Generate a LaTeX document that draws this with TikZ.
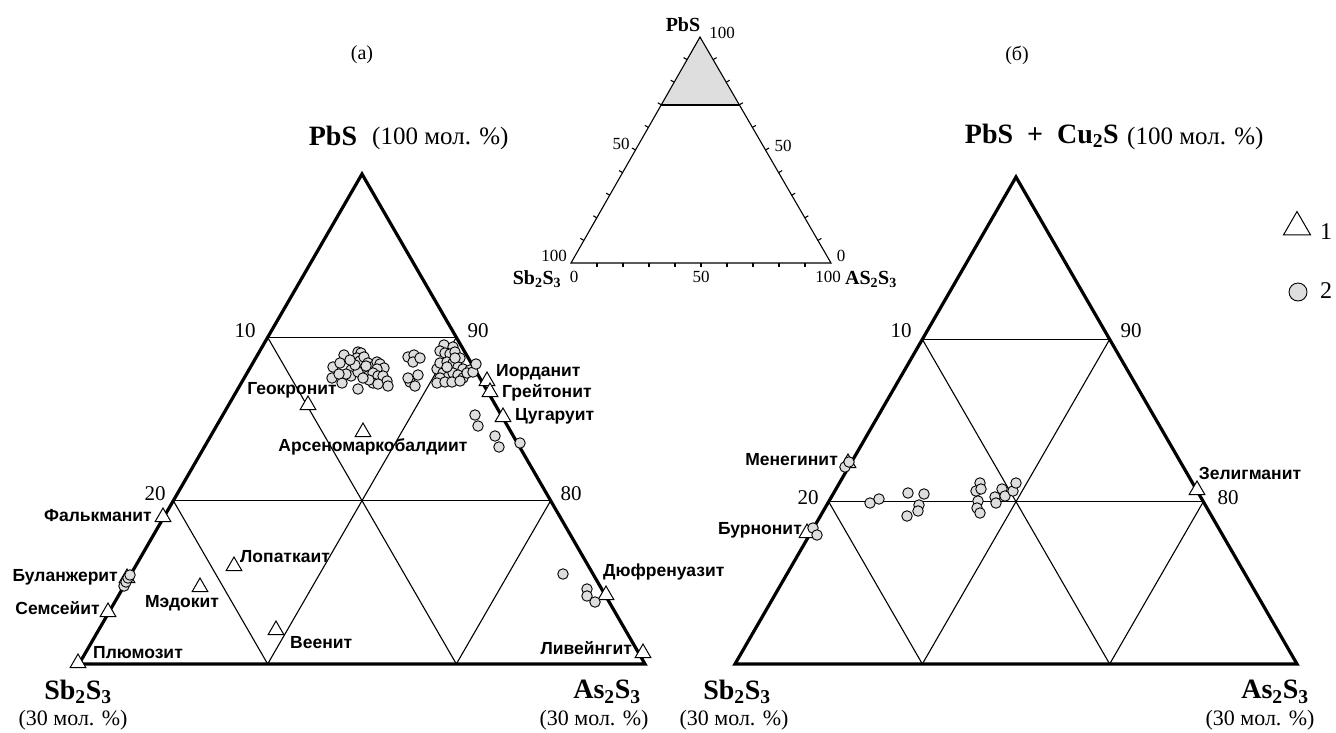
\documentclass[tikz,border=0pt]{standalone}
\usepackage{fontspec}
\setmainfont{Liberation Serif}
\setsansfont{Liberation Sans}
\usetikzlibrary{calc, shapes.geometric}

\definecolor{dotgray}{HTML}{DEDEDE}

% Ternary frame with a 1/3 grid: apex, left corner, right corner

\newcommand{\ternarygrid}[3]{%
	\draw [grid line] ($(#1)!1/3!(#2)$) -- ($(#1)!1/3!(#3)$);
	\draw [grid line] ($(#1)!2/3!(#2)$) -- ($(#1)!2/3!(#3)$);
	\draw [grid line] ($(#2)!1/3!(#3)$) -- ($(#3)!2/3!(#1)$);
	\draw [grid line] ($(#2)!2/3!(#3)$) -- ($(#3)!1/3!(#1)$);
	\draw [grid line] ($(#3)!1/3!(#2)$) -- ($(#2)!2/3!(#1)$);
	\draw [grid line] ($(#3)!2/3!(#2)$) -- ($(#2)!1/3!(#1)$);
	\draw [outer side] (#1) -- (#2) -- (#3) -- cycle;
}

\tikzset{
	outer side/.style = {line width = 3.2pt},
	grid line/.style = {line width = 1.1pt},
	inset line/.style = {line width = 1.1pt},
	trimark/.style = {draw, fill = white, line width = 1pt, regular polygon, regular polygon sides = 3, minimum size = 18pt, inner sep = 0pt},
	dotmark/.style = {draw, fill = dotgray, line width = 0.9pt, circle, minimum size = 10.5pt, inner sep = 0pt},
	mineral/.style = {font = \sffamily\bfseries\fontsize{17.5}{17.5}\selectfont, inner sep = 0pt},
	axisnum/.style = {font = \fontsize{21}{21}\selectfont, inner sep = 0pt},
	corner/.style = {font = \bfseries\fontsize{28}{28}\selectfont, inner sep = 0pt},
	amount/.style = {font = \fontsize{22}{22}\selectfont, inner sep = 0pt},
	insetnum/.style = {font = \fontsize{17}{17}\selectfont, inner sep = 0pt},
	insetcorner/.style = {font = \bfseries\fontsize{20}{20}\selectfont, inner sep = 0pt}
}

\begin{document}
\begin{tikzpicture}[x = 1pt, y = -1pt]

\useasboundingbox (0, 0) rectangle (1336, 732);

% Corners

\coordinate (A1) at (362, 174);
\coordinate (B1) at (79, 664);
\coordinate (C1) at (645, 664);

\coordinate (A2) at (1016, 177);
\coordinate (B2) at (735, 664);
\coordinate (C2) at (1297, 664);

\coordinate (P) at (700, 37);
\coordinate (L) at (571, 263);
\coordinate (R) at (831, 263);

% Inset: whole system with the studied field

\fill [dotgray] (P) -- ($(P)!0.3!(L)$) -- ($(P)!0.3!(R)$) -- cycle;
\draw [line width = 1.6pt] ($(P)!0.3!(L)$) -- ($(P)!0.3!(R)$);
\draw [inset line] (P) -- (L) -- (R) -- cycle;
\foreach \t in {1, ..., 9} {
	\draw [inset line] ($(L)!\t/10!(R)$) -- ++(0, 4);
	\draw [inset line] ($(L)!\t/10!(P)$) -- ++(-3.5, -2);
	\draw [inset line] ($(R)!\t/10!(P)$) -- ++(3.5, -2);
}

\node [insetcorner] (iPbS) at (683, 25) {PbS};
\node [insetnum] (iTop) at (722, 33) {100};
\node [insetnum] (iLeft) at (621, 144) {50};
\node [insetnum] (iRight) at (783, 146) {50};
\node [insetnum] (iLtop) at (554, 256) {100};
\node [insetnum] (iRtop) at (841, 256) {0};
\node [insetnum] (iL0) at (574, 277) {0};
\node [insetnum] (iMid) at (701, 277) {50};
\node [insetnum] (iR100) at (828, 277) {100};
\node [insetcorner] (iSb) at (537, 279) {Sb\textsubscript{2}S\textsubscript{3}};
\node [insetcorner] (iAs) at (871, 279) {AS\textsubscript{2}S\textsubscript{3}};

% Headings

\node [font = \fontsize{20}{20}\selectfont] (capA) at (362, 55) {(а)};
\node [font = \fontsize{20}{20}\selectfont] (capB) at (1017, 55) {(б)};

% Left diagram

\ternarygrid{A1}{B1}{C1}

\node [corner] (topA) at (333, 136) {PbS};
\node [amount, font = \fontsize{25}{25}\selectfont, anchor = west] (topAm) at (372, 138) {(100 мол. \%)};
\node [corner] (sbA) at (78, 692) {Sb\textsubscript{2}S\textsubscript{3}};
\node [amount] (sbAm) at (73, 720) {(30 мол. \%)};
\node [corner] (asA) at (607, 692) {As\textsubscript{2}S\textsubscript{3}};
\node [amount] (asAm) at (594, 720) {(30 мол. \%)};

\node [axisnum] (n10a) at (245, 331) {10};
\node [axisnum] (n90a) at (478, 331) {90};
\node [axisnum] (n20a) at (155, 494) {20};
\node [axisnum] (n80a) at (571, 494) {80};

\foreach \x/\y [count = \i] in {487/381, 490/392, 503/417, 308/405, 363/432, 163/517, 127/578,
	108/612, 78/663, 200/587, 234/566, 276/630, 606/595, 643/653}
	\node [trimark] (ta\i) at (\x, \y) {};

\foreach \x/\y [count = \i] in {344/355, 358/352, 361/353, 333/367, 340/363, 332/378, 342/383,
	351/370, 351/376, 357/358, 360/361, 364/357, 368/363, 372/367, 377/362, 380/364, 384/368,
	377/369, 367/371, 368/376, 373/373, 378/376, 383/376, 387/381, 388/386, 373/383, 369/380,
	378/384, 358/372, 355/365, 358/389, 363/378, 350/360, 366/366, 346/374, 339/374,
	408/357, 414/355, 413/362, 420/358, 418/375, 410/382, 415/386, 408/378,
	444/345, 453/347, 440/351, 445/353, 450/354, 455/352, 460/358, 437/369, 440/363, 447/362,
	453/363, 458/367, 463/369, 470/370, 443/373, 448/377, 453/373, 458/375, 463/378, 440/378,
	437/383, 445/382, 452/382, 460/381, 467/373, 447/367, 455/358, 473/372,
	476/364, 475/415, 478/426, 495/436, 499/447, 520/443,
	124/586, 126/582, 128/578, 130/575,
	563/574, 587/589, 587/596, 595/602}
	\node [dotmark] (da\i) at (\x, \y) {};

\node [mineral, anchor = west] (iord) at (496, 372) {Иорданит};
\node [mineral, anchor = west] (grei) at (502, 393) {Грейтонит};
\node [mineral, anchor = west] (tsug) at (515, 416) {Цугаруит};
\node [mineral] (geok) at (292, 390) {Геокронит};
\node [mineral] (arsen) at (373, 447) {Арсеномаркобалдиит};
\node [mineral, anchor = east] (falk) at (152, 516) {Фалькманит};
\node [mineral, anchor = east] (bulan) at (118, 577) {Буланжерит};
\node [mineral, anchor = east] (sems) at (100, 608) {Семсейит};
\node [mineral, anchor = west] (plum) at (93, 653) {Плюмозит};
\node [mineral] (medok) at (182, 603) {Мэдокит};
\node [mineral, anchor = west] (lopat) at (240, 557) {Лопаткаит};
\node [mineral, anchor = west] (veen) at (290, 643) {Веенит};
\node [mineral, anchor = west] (dufr) at (603, 572) {Дюфренуазит};
\node [mineral, anchor = east] (livein) at (632, 648) {Ливейнгит};

% Right diagram

\ternarygrid{A2}{B2}{C2}

\node [corner, anchor = east] (topB) at (1119, 136) {PbS\hspace{14pt}+\hspace{14pt}Cu\textsubscript{2}S};
\node [amount, font = \fontsize{25}{25}\selectfont, anchor = west] (topBm) at (1127, 138) {(100 мол. \%)};
\node [corner] (sbB) at (737, 692) {Sb\textsubscript{2}S\textsubscript{3}};
\node [amount] (sbBm) at (734, 720) {(30 мол. \%)};
\node [corner] (asB) at (1275, 692) {As\textsubscript{2}S\textsubscript{3}};
\node [amount] (asBm) at (1260, 720) {(30 мол. \%)};

\node [axisnum] (n10b) at (901, 331) {10};
\node [axisnum] (n90b) at (1131, 331) {90};
\node [axisnum] (n20b) at (808, 498) {20};
\node [axisnum] (n80b) at (1228, 498) {80};

\foreach \x/\y [count = \i] in {848/463, 807/533, 1197/490}
	\node [trimark] (tb\i) at (\x, \y) {};

\foreach \x/\y [count = \i] in {845/467, 849/462, 813/528, 817/535,
	870/503, 879/499, 908/493, 924/494, 919/505, 918/511, 907/516,
	980/483, 976/491, 981/489, 978/501, 977/508, 980/513,
	995/497, 996/503, 1002/489, 1005/496, 1013/491, 1016/483}
	\node [dotmark] (db\i) at (\x, \y) {};

\node [mineral, anchor = east] (meneg) at (838, 460) {Менегинит};
\node [mineral, anchor = east] (burn) at (802, 530) {Бурнонит};
\node [mineral] (zelig) at (1250, 473) {Зелигманит};

% Legend

\node [trimark, minimum size = 31pt] (key1) at (1297, 227) {};
\node [dotmark, minimum size = 18pt] (key2) at (1298, 292) {};
\node [font = \fontsize{24}{24}\selectfont] (lab1) at (1326, 232) {1};
\node [font = \fontsize{24}{24}\selectfont] (lab2) at (1326, 291) {2};

\end{tikzpicture}
\end{document}
